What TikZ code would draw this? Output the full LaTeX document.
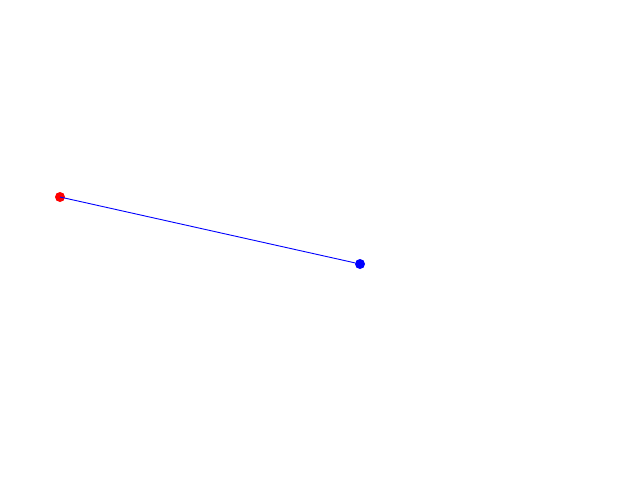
\documentclass[tikz,border=0pt]{standalone}
\begin{document}
\begin{tikzpicture}[x=1pt,y=-1pt,
  dot/.style={circle,inner sep=0pt,minimum size=10pt}]
\useasboundingbox[fill=white] (0,0) rectangle (640,480);
\node[dot,fill=red] (a) at (60,197) {};
\node[dot,fill=blue] (b) at (360,264) {};
\draw[blue,line width=0.9pt] (a.center) -- (b);
\end{tikzpicture}
\end{document}
